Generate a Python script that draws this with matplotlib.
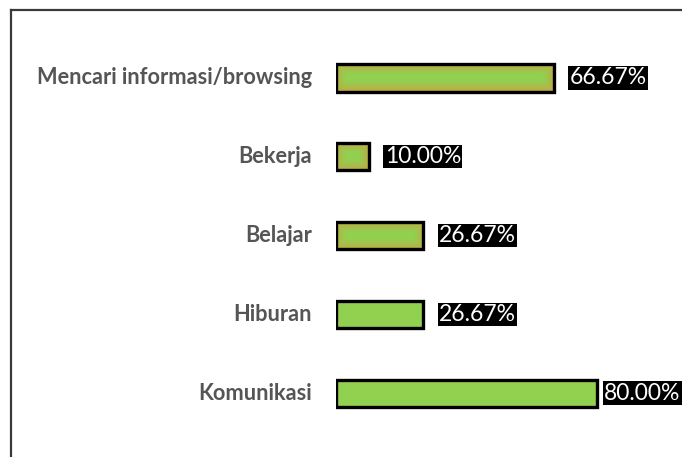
import numpy as np
import matplotlib
matplotlib.use("Agg")
from matplotlib import pyplot as plt
from matplotlib.lines import Line2D
from matplotlib.patches import Rectangle
import matplotlib.transforms as mtransforms

# data (bottom to top)
categories = ["Komunikasi", "Hiburan", "Belajar", "Bekerja", "Mencari informasi/browsing"]
values = [80.00, 26.67, 26.67, 10.00, 66.67]
gradient_bar = [False, False, True, True, True]

W, H = 682, 457
DPI = 100
green = np.array([0x92, 0xD0, 0x50]) / 255.0
gold = np.array([0xC8, 0xA0, 0x40]) / 255.0

fig = plt.figure(figsize=(W / DPI, H / DPI), dpi=DPI)

# axes in pixel units: value 0 at x=336, value 80 at x=597
px_per_unit = (597 - 336) / 80.0
ax_left = 336
ax = fig.add_axes([ax_left / W, 0, (W - ax_left) / W, 1])

# categories: index 0 at y=393 px from top, index 4 at y=78
step = (393 - 78) / 4.0
bar_h = 27 / step

ypos = np.arange(len(categories))
for y, v, grad in zip(ypos, values, gradient_bar):
    if grad:
        wpx = int(round(v * px_per_unit))
        hpx = 27
        xx = np.arange(wpx) + 0.5
        yy = np.arange(hpx) + 0.5
        X, Y = np.meshgrid(xx, yy)
        d = np.minimum(np.minimum(X, wpx - X), np.minimum(Y, hpx - Y))
        t = np.clip(d / 10.0, 0, 1) ** 0.7
        img = gold[None, None, :] * (1 - t[..., None]) + green[None, None, :] * t[..., None]
        ax.imshow(img, extent=[0, v, y - bar_h / 2, y + bar_h / 2],
                  aspect="auto", interpolation="bilinear", zorder=2)
        ax.add_patch(Rectangle((0, y - bar_h / 2), v, bar_h, fill=False,
                               edgecolor="black", linewidth=2.4, zorder=3))
    else:
        ax.add_patch(Rectangle((0, y - bar_h / 2), v, bar_h, facecolor=green,
                               edgecolor="black", linewidth=2.4, zorder=3))

    # value label in black box
    x_lbl = min(v + 16 / px_per_unit, (604 - ax_left) / px_per_unit)
    ax.text(x_lbl, y, "{:.2f}%".format(v), ha="left", va="center",
            color="white", fontsize=16.5, family="Lato",
            bbox=dict(boxstyle="square,pad=0.05", facecolor="black", edgecolor="none"),
            zorder=4)

    # category label
    off = mtransforms.offset_copy(ax.transData, fig=fig, x=-24, y=0, units="dots")
    ax.text(0, y, categories[y], transform=off, ha="right", va="center",
            color="#555555", fontsize=15.7, fontweight="bold", family="Lato")

ax.set_xlim(0, (W - ax_left) / px_per_unit)
ax.set_ylim(-(H - 393) / step, 4 + 78 / step)
ax.axis("off")

# chart area border (top and left visible)
fig.add_artist(Line2D([11 / W, 11 / W], [0, 1 - 10 / H], color="#3a3a3a", linewidth=1.6))
fig.add_artist(Line2D([11 / W, 1], [1 - 10 / H, 1 - 10 / H], color="#3a3a3a", linewidth=1.6))

fig.savefig("out.png", dpi=DPI)
